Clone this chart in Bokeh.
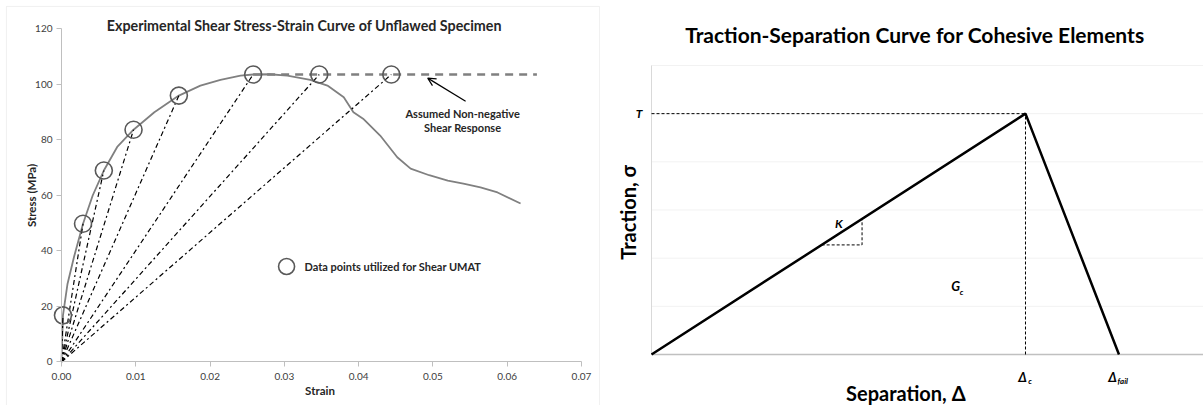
from bokeh.plotting import figure
from bokeh.layouts import row
from bokeh.models import Range1d, Label, Arrow, OpenHead, FixedTicker, NumeralTickFormatter, BoxAnnotation
from bokeh.core.properties import value
from bokeh.embed import file_html
from bokeh.resources import INLINE

FONT = "Lato"

# ---------------- Left chart data ----------------
strain = [0.0, 0.0002, 0.0008, 0.0017, 0.0029, 0.0042, 0.0057, 0.0075, 0.0097, 0.0125,
          0.0158, 0.0187, 0.0214, 0.0241, 0.0258, 0.0280, 0.0304, 0.0335, 0.0358, 0.0380,
          0.0393, 0.0406, 0.0429, 0.0452, 0.0470, 0.0495, 0.0520, 0.0541, 0.0564, 0.0587, 0.0618]
stress = [0.0, 16.8, 28.0, 38.0, 49.8, 60.0, 69.0, 77.5, 83.7, 90.0,
          96.0, 99.6, 101.7, 103.2, 103.6, 103.7, 103.2, 101.7, 99.6, 95.4,
          90.0, 87.7, 81.6, 73.8, 69.7, 67.3, 65.4, 64.3, 62.9, 61.1, 57.1]
pt_strain = [0.0002, 0.0029, 0.0057, 0.0097, 0.0158, 0.0258, 0.0347, 0.0444]
pt_stress = [16.8, 49.8, 69.0, 83.7, 96.0, 103.6, 103.6, 103.6]
plateau_strain = [0.0258, 0.0640]
plateau_stress = [103.6, 103.6]
x_ticks = [0.0, 0.01, 0.02, 0.03, 0.04, 0.05, 0.06, 0.07]
y_ticks = [0, 20, 40, 60, 80, 100, 120]

# ---------------- Right chart data ----------------
separation = [0.0, 1.0, 1.25]
traction = [0.0, 5.0, 0.0]
k_tri_x = [0.455, 0.563]
grid_ticks = [1, 2, 3, 4, 5, 6]

AX = "#bfbfbf"
TXT = "#404040"

# ---------------- Left figure ----------------
X0, X1 = -0.00821, 0.07256
Y0, Y1 = -15.68, 130.27
p1 = figure(width=600, height=405, output_backend="svg", toolbar_location=None,
            x_range=Range1d(X0, X1), y_range=Range1d(Y0, Y1),
            min_border_left=0, min_border_right=0, min_border_top=0, min_border_bottom=0)
p1.outline_line_color = None
p1.grid.grid_line_color = None
for ax in (p1.xaxis, p1.yaxis):
    ax.axis_line_color = AX
    ax.major_tick_line_color = AX
    ax.minor_tick_line_color = None
    ax.major_tick_in = 0
    ax.major_tick_out = 5
    ax.major_label_text_font = FONT
    ax.major_label_text_font_size = "10px"
    ax.major_label_text_color = TXT
    ax.fixed_location = 0
p1.xaxis.ticker = FixedTicker(ticks=x_ticks)
p1.xaxis.formatter = NumeralTickFormatter(format="0.00")
p1.yaxis.ticker = FixedTicker(ticks=y_ticks)
p1.xaxis.bounds = (x_ticks[0], x_ticks[-1])
p1.yaxis.bounds = (y_ticks[0], y_ticks[-1])
p1.xaxis.major_label_standoff = 6
p1.yaxis.major_label_standoff = 4

p1.add_layout(BoxAnnotation(left=X0 + 6 / 7430, right=X1 - 1 / 7430, top=Y1 - 6 / 2.775, bottom=Y0 - 20,
                            fill_color=None, line_color="#d0d0d0", line_width=1))

p1.line(strain, stress, line_color="#808080", line_width=1.8)
p1.multi_line([[0, sx] for sx in pt_strain], [[0, sy] for sy in pt_stress],
              line_color="black", line_width=1.2, line_dash=value("5 3 2 3"))
p1.line(plateau_strain, plateau_stress, line_color="#808080", line_width=2.5, line_dash="8 6")
p1.scatter(pt_strain, pt_stress, marker="circle", size=17, fill_color=None,
           line_color="#595959", line_width=1.6)

p1.add_layout(Arrow(end=OpenHead(size=8, line_width=1.2, line_color="black"),
                    x_start=0.0544, y_start=94.0, x_end=0.0493, y_end=102.3,
                    line_width=1.2, line_color="black"))

def lab(p, x, y, text, size, style="bold", align="center", color="black", angle=0):
    p.add_layout(Label(x=x, y=y, text=text, text_font=FONT, text_font_size=size,
                       text_font_style=style, text_align=align, text_baseline="middle",
                       text_color=color, angle=angle, angle_units="deg"))

lab(p1, 0.0327, 121.3, "Experimental Shear Stress-Strain Curve of Unflawed Specimen", "14.3px", color="#262626")
lab(p1, 0.0540, 89.5, "Assumed Non-negative", "11px", color="#262626")
lab(p1, 0.0540, 84.5, "Shear Response", "11px", color="#262626")
lab(p1, 0.0327, 34.4, "Data points utilized for Shear UMAT", "11px", align="left", color="#262626")
lab(p1, 0.0348, -10.4, "Strain", "11.5px", color="#262626")
lab(p1, -0.0040, 60, "Stress (MPa)", "11.5px", color="#262626", angle=90)
p1.scatter([0.0303], [34.4], marker="circle", size=16, fill_color=None,
           line_color="#595959", line_width=1.6)

# ---------------- Right figure ----------------
RX0, RX1 = -0.1364, 1.476
RY0, RY1 = -1.0588, 7.349
p2 = figure(width=603, height=405, output_backend="svg", toolbar_location=None,
            x_range=Range1d(RX0, RX1), y_range=Range1d(RY0, RY1),
            x_axis_type=None, y_axis_type=None,
            min_border_left=0, min_border_right=0, min_border_top=0, min_border_bottom=0)
p2.outline_line_color = None
p2.grid.grid_line_color = None

p2.segment(x0=0, y0=grid_ticks, x1=RX1, y1=grid_ticks, line_color="#f2f2f2", line_width=1)
p2.line([0, 0], [0, grid_ticks[-1]], line_color="#d9d9d9", line_width=1)
p2.line([0, RX1], [0, 0], line_color="#c0c0c0", line_width=1.5)

p2.line([0, separation[1]], [traction[1], traction[1]], line_color="black", line_width=1, line_dash="3 2")
p2.line([separation[1], separation[1]], [0, traction[1]], line_color="black", line_width=1, line_dash="3 2")
k_slope = traction[1] / separation[1]
p2.line([k_tri_x[0], k_tri_x[1], k_tri_x[1]],
        [k_tri_x[0] * k_slope, k_tri_x[0] * k_slope, k_tri_x[1] * k_slope],
        line_color="black", line_width=1, line_dash="3 2")
p2.line(separation, traction, line_color="black", line_width=2.5)

lab(p2, 0.711, 6.64, "Traction-Separation Curve  for Cohesive Elements", "21px")
lab(p2, -0.024, 5.0, "T", "12px", style="bold italic", align="right")
lab(p2, 0.501, 2.72, "K", "12px", style="bold italic")
lab(p2, 0.813, 1.43, "G", "13px", style="bold italic")
lab(p2, 0.829, 1.30, "c", "8px", style="bold italic")
lab(p2, 0.992, -0.477, "Δ", "13px", style="bold italic")
lab(p2, 1.012, -0.56, "c", "8px", style="bold italic")
lab(p2, 1.233, -0.477, "Δ", "13px", style="bold italic")
lab(p2, 1.246, -0.56, "fail", "8px", style="bold italic", align="left")
lab(p2, 0.68, -0.80, "Separation, Δ", "20px")
lab(p2, -0.064, 3.0, "Traction,  σ", "20px", angle=90)

layout = row(p1, p2)
open("out.html", "w").write(file_html(layout, INLINE))
